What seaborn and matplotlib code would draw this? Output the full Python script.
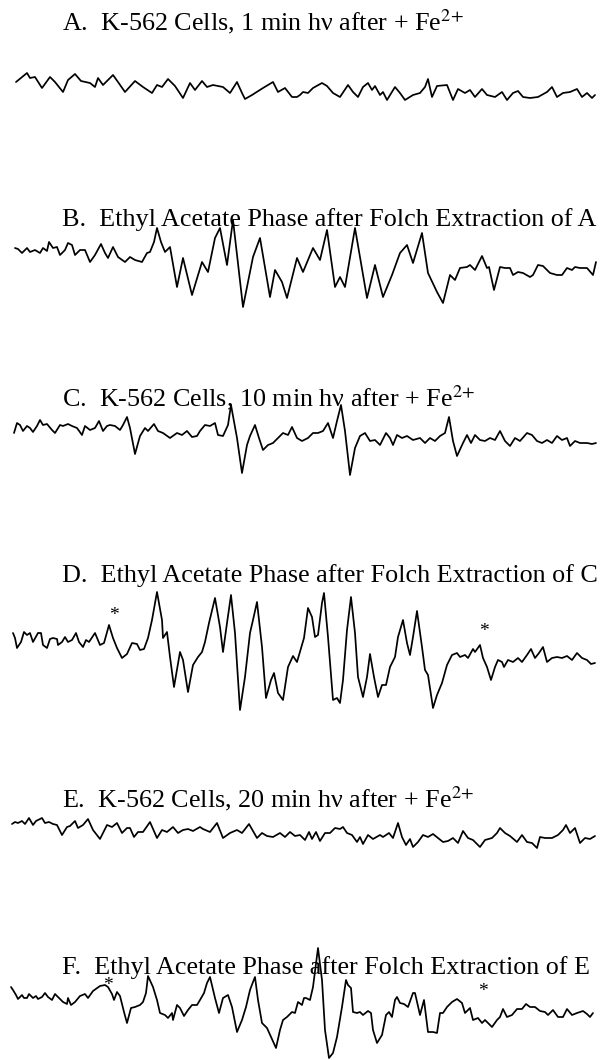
import numpy as np
import pandas as pd
import matplotlib
matplotlib.use("Agg")
import matplotlib.pyplot as plt
import seaborn as sns

sns.set_theme(style="white")
plt.rcParams["font.family"] = ["Liberation Serif", "DejaVu Serif"]
plt.rcParams["mathtext.fontset"] = "stix"

# ---------------- data (field position, signal amplitude) ----------------
A_field = [16,27,30,35,42,50,55,63,68,75,81,90,95,98,103,113,118,125,135,143,152,157,162,168,175,183,190,195,202,207,213,223,230,237,242,245,252,263,273,278,285,292,297,
           300,303,308,313,322,327,333,340,348,353,358,363,368,372,375,380,383,387,395,400,405,413,420,425,428,432,437,447,453,458,465,470,475,482,487,495,502,507,513,518,523,530,538,547,552,557,563,570,577,582,587,592,595]
A_signal = [6,15,10,11,0,11,6,-4,8,14,7,5,1,10,3,13,6,-4,7,1,-5,3,1,9,2,-10,5,-2,7,1,3,1,-5,6,-5,-11,-7,0,6,-4,0,-9,-9,
            -7,-4,-5,0,5,2,-5,-9,3,-4,-9,1,5,-2,2,-7,-4,-12,1,-5,-12,-7,-5,1,9,-9,2,3,-12,-1,-5,-2,-9,-1,-7,-9,-4,-12,-5,-3,-9,-10,-9,-4,1,-9,-5,-4,-1,-9,-5,-10,-7]

B_field = [15,18,22,27,30,35,40,43,47,49,53,57,60,65,68,72,75,80,85,90,95,101,105,108,113,118,125,130,135,142,147,150,154,157,161,165,170,177,183,192,202,208,215,220,227,233,243,253,260,270,275,282,287,297,303,313,320,327,335,340,345,355,367,375,383,392,400,407,413,422,428,437,443,450,455,460,467,470,475,482,487,489,494,500,505,510,513,518,523,530,533,538,543,550,557,562,567,572,575,580,587,593,596]
B_signal = [12,11,7,12,8,10,7,12,9,18,12,13,5,10,17,15,5,10,10,-2,5,16,7,2,13,3,-2,3,0,-2,7,8,18,32,18,8,13,-27,2,-35,-2,-12,22,32,-5,40,-47,3,22,-37,-10,-22,-38,2,-12,12,0,30,-27,-17,-27,32,-38,-5,-37,-15,7,15,-3,27,-13,-32,-43,-15,-20,-8,-7,-5,-10,4,-8,-7,-30,-7,-8,-8,-15,-12,-13,-17,-15,-5,-6,-13,-15,-15,-8,-10,-7,-8,-8,-15,-2]

C_field = [14,17,20,23,27,30,33,37,40,43,47,52,55,60,63,68,72,77,82,85,90,95,99,103,107,110,115,120,123,127,130,135,140,145,148,154,158,163,170,177,182,187,192,197,200,205,210,215,218,223,228,231,237,242,247,250,255,259,263,268,273,278,283,288,292,297,302,308,313,318,323,328,333,337,341,345,350,355,360,365,370,375,380,386,390,393,397,402,407,413,420,425,430,435,440,445,449,453,457,463,467,471,475,480,485,490,495,500,505,510,515,520,527,532,537,542,547,552,557,562,567,570,575,580,587,592,596]
C_signal = [2,12,10,4,9,7,3,9,15,10,11,5,2,10,9,11,9,7,0,9,5,7,14,4,9,10,9,5,10,18,7,-19,-1,7,4,11,4,2,-3,2,0,4,-2,-1,4,10,9,12,0,-1,10,30,-3,-38,-10,-1,10,-3,-15,-10,-8,-3,2,0,8,-3,-6,-3,2,2,4,12,-3,14,30,4,-40,-13,-1,2,-6,-5,-10,2,-3,-10,0,-3,-1,-5,-3,-8,-3,-6,-1,2,18,-6,-21,-8,0,-8,0,-5,-6,-3,-5,4,-6,-11,-3,-6,2,0,-6,-8,-5,-8,-1,-5,-3,-11,-6,-8,-8,-9,-8]

D_field = [13,15,17,21,24,27,30,33,38,41,43,47,50,53,57,58,62,65,68,72,76,79,83,86,89,95,100,104,109,113,117,122,127,132,137,140,144,148,152,157,162,163,167,170,174,180,183,188,193,198,202,205,209,215,220,223,227,231,235,240,245,250,253,257,262,266,271,274,278,283,288,293,297,304,308,312,315,318,322,324,328,333,337,340,343,347,351,355,358,363,367,370,374,378,382,386,390,395,398,403,407,410,413,417,422,425,428,433,437,442,447,452,457,460,465,468,473,475,480,483,487,491,495,498,502,504,508,513,518,522,527,531,535,539,543,547,552,557,562,567,572,577,582,587,591,595]
D_signal = [17,12,2,8,18,15,17,8,17,17,5,2,11,12,11,5,8,13,8,10,17,8,3,10,8,17,5,7,25,12,2,-8,-4,7,6,0,1,12,30,58,30,12,18,-7,-37,-2,-10,-42,-15,-7,-2,8,27,52,23,-2,27,55,17,-60,-27,17,30,48,3,-48,-30,-23,-43,-50,-17,-6,-12,12,42,33,13,15,47,57,13,-50,-48,-53,-30,20,53,17,-27,-47,-27,-4,-27,-47,-35,-35,-17,-7,13,30,7,-5,13,39,3,-20,-25,-58,-45,-33,-15,-5,-3,-7,-5,-8,1,-2,5,-8,-17,-30,-17,-10,-12,-17,-10,-12,-8,-12,-5,1,-8,-3,3,-12,-8,-7,-8,-6,-10,-3,-8,-10,-14,-13]

E_field = [12,15,18,22,25,29,33,36,42,45,49,53,57,62,67,70,75,78,83,88,93,100,107,112,117,122,127,130,134,138,143,150,157,162,167,173,178,183,188,193,200,203,210,217,223,230,237,242,249,257,262,267,273,280,285,290,295,300,305,309,312,316,320,325,330,335,340,343,347,352,357,360,363,368,373,380,383,389,393,398,402,406,410,413,418,423,428,433,438,443,448,453,458,463,468,473,480,485,492,497,500,505,510,517,522,527,532,537,540,545,552,558,563,566,570,575,580,585,590,595]
E_signal = [8,10,9,11,8,14,7,11,14,9,10,8,7,-3,5,6,11,4,7,13,2,-7,7,5,9,-1,4,4,-5,0,0,10,-6,2,0,5,-1,2,3,1,5,3,0,9,-6,-1,2,-1,8,-6,-1,-4,-5,-1,-5,0,-4,-3,-8,0,-7,0,-9,-1,-1,4,3,5,-1,-3,-10,-5,-12,-3,-7,-3,-5,-1,-6,9,-5,-13,-7,-15,-10,-3,-5,-2,-6,-10,-9,-6,-11,1,-6,-8,-15,-8,-6,-1,4,-1,-4,-10,-3,-10,-11,-16,-5,-6,-6,-3,2,7,-1,4,-11,-6,-7,-4]

F_field = [11,13,16,18,22,24,27,29,33,36,38,42,45,48,52,55,59,63,67,68,71,75,80,85,88,93,100,105,108,112,114,117,120,124,127,131,135,140,143,146,148,153,157,160,165,168,172,173,177,180,184,188,192,197,200,204,207,210,215,219,223,228,232,237,242,246,250,253,255,258,262,267,271,276,280,283,287,292,295,298,302,304,306,310,313,318,322,325,329,333,337,342,346,348,351,353,357,360,363,368,371,373,377,382,386,389,392,395,397,400,404,408,413,415,420,424,428,433,437,440,443,447,452,457,462,465,470,473,478,482,485,492,497,500,503,507,512,517,522,526,530,535,540,545,548,553,558,563,567,572,577,583,587,590,593]
F_signal = [13,10,5,1,5,2,2,6,2,4,1,3,7,3,0,6,2,-2,-4,2,-5,-2,4,6,2,9,14,15,13,6,0,8,4,-12,-23,-8,-7,-5,-2,7,24,13,0,-13,-15,-18,-13,-20,-5,-8,-16,-10,-5,-5,0,7,17,23,2,-13,2,5,-7,-32,-20,-7,10,18,23,0,-23,-28,-37,-48,-30,-20,-17,-12,-13,-2,-5,2,2,0,13,52,20,-30,-58,-53,-37,-7,20,15,12,-12,-13,-12,-15,-11,-13,-30,-43,-35,-15,-12,-17,0,3,-3,-4,-7,7,7,-15,0,-32,-32,-33,-13,-13,-7,-2,1,-3,-13,-8,-20,-18,-23,-20,-27,-20,-17,-9,-17,-15,-9,-9,-4,-7,-7,-11,-12,-15,-10,-17,-17,-9,-15,-13,-11,-14,-17,-13]

titles = [
    "A.  K-562 Cells, 1 min h\u03bd after + Fe$^{2{+}}$",
    "B.  Ethyl Acetate Phase after Folch Extraction of A",
    "C.  K-562 Cells, 10 min h\u03bd after + Fe$^{2{+}}$",
    "D.  Ethyl Acetate Phase after Folch Extraction of C",
    "E.  K-562 Cells, 20 min h\u03bd after + Fe$^{2{+}}$",
    "F.  Ethyl Acetate Phase after Folch Extraction of E",
]
star_D = [114, 484]
star_F = [108, 483]

# ---------------- layout ----------------
traces = [(A_field, A_signal), (B_field, B_signal), (C_field, C_signal),
          (D_field, D_signal), (E_field, E_signal), (F_field, F_signal)]
baselines = [88, 260, 435, 650, 832, 1000]
title_y = [30, 226, 406, 582, 807, 974]

fig = plt.figure(figsize=(6.03, 10.60), dpi=100)
ax = fig.add_axes([0, 0, 1, 1])

for (fld, sig), base in zip(traces, baselines):
    df = pd.DataFrame({"field": fld, "y": base - np.asarray(sig, dtype=float)})
    sns.lineplot(data=df, x="field", y="y", ax=ax, color="black",
                 linewidth=1.25, estimator=None, sort=False)

for t, ty in zip(titles, title_y):
    ax.text(62, ty, t, ha="left", va="baseline", fontsize=18.8, color="black")

for sx, sy in zip(star_D, [615, 631]):
    ax.text(sx, sy, "*", ha="center", va="center", fontsize=14, color="black")
for sx, sy in zip(star_F, [986, 992]):
    ax.text(sx, sy, "*", ha="center", va="center", fontsize=14, color="black")

ax.set_xlim(0, 603)
ax.set_ylim(1060, 0)
ax.axis("off")
fig.savefig("out.png", dpi=100, facecolor="white")
